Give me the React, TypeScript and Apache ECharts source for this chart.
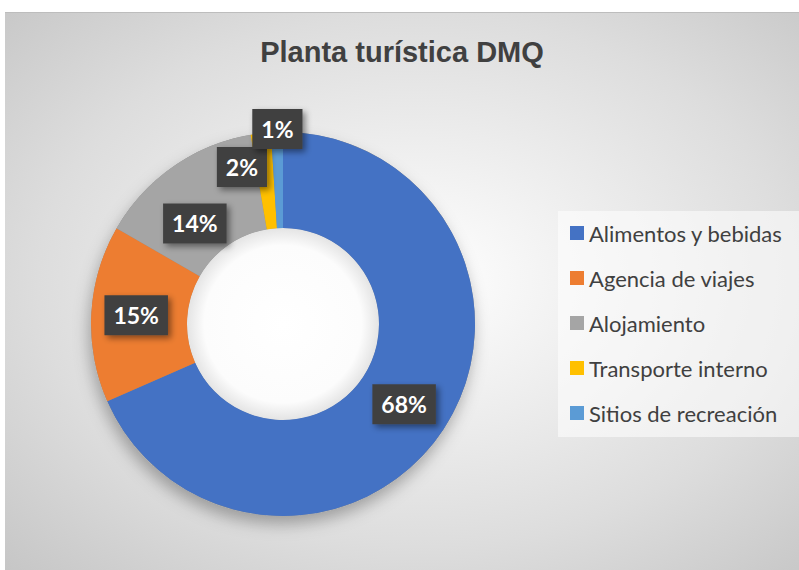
import React, { useEffect, useRef } from "react";
import * as echarts from "echarts";

const titleText = "Planta turística DMQ";
const categories = [
  "Alimentos y bebidas",
  "Agencia de viajes",
  "Alojamiento",
  "Transporte interno",
  "Sitios de recreación",
];
const values = [68.4, 14.9, 14.0, 1.7, 1.0];
const colors = ["#4472C4", "#ED7D31", "#A5A5A5", "#FFC000", "#5B9BD5"];
// manual nudges of the data labels (as in the original chart)
const labelNudges = [
  [-2, 0],
  [0, -1],
  [-4, 20],
  [-24, -11],
  [-1, -48],
];

export default function App() {
  const ref = useRef<HTMLDivElement>(null);
  useEffect(() => {
    if (!ref.current) return;
    const chart = echarts.init(ref.current, undefined, { renderer: "svg" });
    const center = [278, 311];
    chart.setOption({
      animation: false,
      title: {
        text: titleText,
        left: "center",
        top: 19,
        textStyle: {
          fontFamily: "'Liberation Sans', Arial, sans-serif",
          fontWeight: "bold",
          fontSize: 29,
          color: "#404040",
        },
      },
      legend: {
        orient: "vertical",
        left: 553,
        top: 198,
        padding: [11, 18, 13, 12],
        backgroundColor: "rgba(255,255,255,0.55)",
        itemWidth: 14,
        itemHeight: 14,
        itemGap: 23,
        icon: "rect",
        data: categories,
        textStyle: {
          fontFamily: "Lato, 'Open Sans', sans-serif",
          fontSize: 22,
          lineHeight: 22,
          color: "#404040",
        },
      },
      series: [
        {
          type: "pie",
          silent: true,
          center,
          radius: [96, 192],
          startAngle: 90,
          label: { show: false },
          labelLine: { show: false },
          itemStyle: {
            color: "#8a8a8a",
            shadowBlur: 16,
            shadowOffsetX: -2,
            shadowOffsetY: 8,
            shadowColor: "rgba(0,0,0,0.3)",
          },
          data: [{ value: 1, name: "" }],
          legendHoverLink: false,
        },
        {
          type: "pie",
          silent: true,
          center,
          radius: [0, 96],
          label: { show: false },
          labelLine: { show: false },
          itemStyle: {
            color: {
              type: "radial",
              x: 0.5,
              y: 0.5,
              r: 0.5,
              colorStops: [
                { offset: 0, color: "#ffffff" },
                { offset: 0.82, color: "#fcfcfc" },
                { offset: 1, color: "#e4e4e4" },
              ],
            },
          },
          data: [{ value: 1, name: " " }],
        },
        {
          type: "pie",
          center,
          radius: [96, 192],
          startAngle: 90,
          clockwise: true,
          percentPrecision: 0,
          avoidLabelOverlap: false,
          labelLayout: (p: any) => {
            const n = labelNudges[p.dataIndex] || [0, 0];
            return { dx: n[0], dy: n[1] };
          },
          label: {
            show: true,
            position: "inside",
            formatter: "{d}%",
            fontFamily: "Lato, 'Open Sans', sans-serif",
            fontWeight: "bold",
            fontSize: 23,
            color: "#ffffff",
            backgroundColor: "#414141",
            padding: [9, 9, 8, 9],
            shadowBlur: 6,
            shadowOffsetX: 3,
            shadowOffsetY: 3,
            shadowColor: "rgba(0,0,0,0.45)",
          },
          labelLine: { show: false },
          itemStyle: { borderWidth: 0 },
          data: categories.map((c, i) => ({
            name: c,
            value: values[i],
            itemStyle: { color: colors[i] },
          })),
        },
      ],
    });
    return () => chart.dispose();
  }, []);
  return (
    <div
      ref={ref}
      style={{
        position: "absolute",
        left: 5,
        top: 12,
        width: 794,
        height: 558,
        borderTop: "1px solid #bdbdbd",
        boxSizing: "border-box",
        background:
          "radial-gradient(ellipse farthest-corner at 52% 48%, #ffffff 0%, #f2f2f2 25%, #dddddd 65%, #c6c6c6 100%)",
      }}
    />
  );
}
